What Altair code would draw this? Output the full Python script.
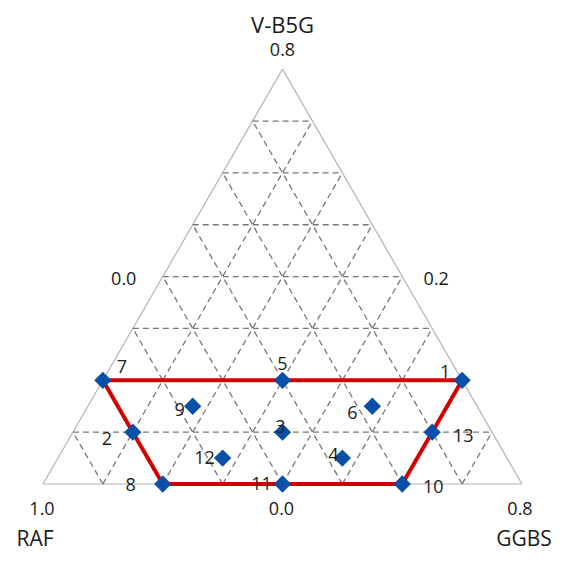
import math
import altair as alt
import pandas as pd

# ---- data (fractions of each component, sum = 1) ----
run_ids = [1, 2, 3, 4, 5, 6, 7, 8, 9, 10, 11, 12, 13]
vb5g = [0.25, 0.125, 0.125, 0.0625, 0.25, 0.1875, 0.25, 0.0, 0.1875, 0.0, 0.0, 0.0625, 0.125]
ggbs = [0.75, 0.125, 0.4375, 0.59375, 0.375, 0.59375, 0.0, 0.25, 0.21875, 0.75, 0.5, 0.34375, 0.75]
raf = [round(1 - a - b, 5) for a, b in zip(vb5g, ggbs)]
boundary_order = [7, 5, 1, 13, 10, 11, 8, 2, 7]
grid_steps = [1, 2, 3, 4, 5, 6, 7]
grid_div = 8

# ---- styling (label offsets in pixels) ----
label_offsets = {
    1: (-17, -7), 2: (-26, 8), 3: (-2, -4), 4: (-9, -2), 5: (0, -15),
    6: (-20, 8), 7: (19, -12), 8: (-32, 2), 9: (-13, 5), 10: (31, 4),
    11: (-21, 1), 12: (-18, 1), 13: (31, 5),
}
PX = 479.0  # pixels per unit of triangle side
H = math.sqrt(3) / 2
FONT = "Open Sans"


def to_xy(t, r):
    return r + t / 2, t * H


pts = []
for i, t, r, l in zip(run_ids, vb5g, ggbs, raf):
    x, y = to_xy(t, r)
    dx, dy = label_offsets[i]
    pts.append(dict(id=i, vb5g=t, ggbs=r, raf=l, X=x, Y=y,
                    LX=x + dx / PX, LY=y - dy / PX, label=str(i)))
pts_df = pd.DataFrame(pts)
pt_lookup = {p["id"]: p for p in pts}
boundary_df = pd.DataFrame([dict(order=k, X=pt_lookup[i]["X"], Y=pt_lookup[i]["Y"])
                            for k, i in enumerate(boundary_order)])

# triangle outline
corners = [(0.0, 0.0), (1.0, 0.0), (0.5, H)]
edges_df = pd.DataFrame([dict(X=corners[k][0], Y=corners[k][1],
                              X2=corners[(k + 1) % 3][0], Y2=corners[(k + 1) % 3][1])
                         for k in range(3)])

# dashed grid
grid = []
for k in grid_steps:
    f = k / grid_div
    a = to_xy(f, 0.0); b = to_xy(f, 1 - f)           # constant V-B5G
    grid.append(dict(X=a[0], Y=a[1], X2=b[0], Y2=b[1]))
    a = to_xy(0.0, f); b = to_xy(1 - f, f)           # constant GGBS
    grid.append(dict(X=a[0], Y=a[1], X2=b[0], Y2=b[1]))
    a = to_xy(0.0, 1 - f); b = to_xy(1 - f, 0.0)     # constant RAF
    grid.append(dict(X=a[0], Y=a[1], X2=b[0], Y2=b[1]))
grid_df = pd.DataFrame(grid)

W = 545
HT = 545
xs = alt.Scale(domain=[-35 / PX, (W - 35) / PX], nice=False, zero=False)
ys = alt.Scale(domain=[(476 - HT) / PX, 476 / PX], nice=False, zero=False)

xq = alt.X("X:Q", scale=xs, axis=None)
yq = alt.Y("Y:Q", scale=ys, axis=None)

outline = alt.Chart(edges_df).mark_rule(color="#b4b4b4", strokeWidth=1.2).encode(
    x=xq, y=yq, x2="X2:Q", y2="Y2:Q")
gridl = alt.Chart(grid_df).mark_rule(color="#777777", strokeWidth=1.3,
                                     strokeDash=[6, 4]).encode(
    x=xq, y=yq, x2="X2:Q", y2="Y2:Q")
poly = alt.Chart(boundary_df).mark_line(color="#d40000", strokeWidth=4).encode(
    x=xq, y=yq, order="order:Q")
points = alt.Chart(pts_df).mark_point(shape="diamond", filled=True, size=300,
                                      color="#0a4fa8", opacity=1).encode(x=xq, y=yq)
labels = alt.Chart(pts_df).mark_text(fontSize=18, font=FONT, color="#222222",
                                     baseline="middle", align="center").encode(
    x=alt.X("LX:Q", scale=xs, axis=None), y=alt.Y("LY:Q", scale=ys, axis=None),
    text="label:N")

# axis annotations anchored on the triangle geometry (alphabetic baseline)
ann = [
    ("V-B5G", 0.5, H, 0, -36, 22),
    ("0.8", 0.5, H, 0, -13, 18),
    ("0.0", 0.25, H / 2, -39, 8, 18),
    ("0.2", 0.75, H / 2, 34, 8, 18),
    ("1.0", 0.0, 0.0, -1, 31, 18),
    ("0.0", 0.5, 0.0, -1, 31, 18),
    ("0.8", 1.0, 0.0, -2, 31, 18),
    ("RAF", 0.0, 0.0, -8, 62, 21),
    ("GGBS", 1.0, 0.0, 2, 62, 21),
]
ann_layers = []
for txt, ax, ay, dx, dy, fs in ann:
    ann_layers.append(
        alt.Chart(pd.DataFrame([dict(X=ax, Y=ay, t=txt)])).mark_text(
            fontSize=fs, font=FONT, color="#1a1a1a", dx=dx, dy=dy,
            baseline="alphabetic", align="center").encode(x=xq, y=yq, text="t:N"))

chart = alt.layer(outline, gridl, poly, points, labels, *ann_layers).properties(
    width=W, height=HT, autosize=alt.AutoSizeParams(type="none"), padding=0
).configure_view(stroke=None)

chart.save("out.html", embed_options={"renderer": "svg", "actions": False})
